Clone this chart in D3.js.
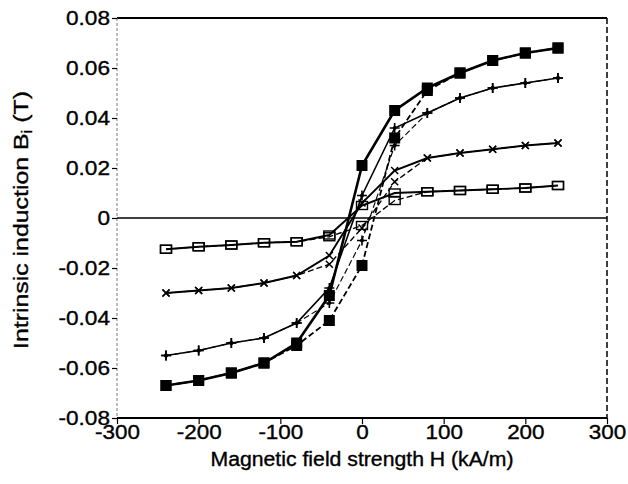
<!DOCTYPE html>
<html><head><meta charset="utf-8">
<script src="https://cdn.jsdelivr.net/npm/d3@7"></script>
<style>
html,body{margin:0;padding:0;background:#fff;}
text{font-family:"Liberation Sans",Arial,Helvetica,sans-serif;fill:#000;stroke:#000;stroke-width:0.35px;}
</style></head>
<body><svg id="c" width="628" height="484"></svg>
<script>
// H values for the descending (upper) branch and ascending (lower) branch, kA/m
const H_desc = [240,200,160,120,80,40,0,-40,-80,-120,-160,-200,-240];
const H_asc  = [-240,-200,-160,-120,-80,-40,0,40,80,120,160,200,240];

// Series 1: filled squares
const sqDesc = [0.068,0.066,0.063,0.058,0.052,0.043,0.021,-0.031,-0.050,-0.058,-0.062,-0.065,-0.067];
const sqAsc  = [-0.067,-0.065,-0.062,-0.058,-0.051,-0.041,-0.019,0.032,0.051,0.058,0.063,0.066,0.068];
// Series 2: plus markers
const plDesc = [0.056,0.054,0.052,0.048,0.042,0.036,0.009,-0.028,-0.042,-0.048,-0.050,-0.053,-0.055];
const plAsc  = [-0.055,-0.053,-0.050,-0.048,-0.042,-0.034,-0.009,0.029,0.042,0.048,0.052,0.054,0.056];
// Series 3: cross markers
const crDesc = [0.030,0.029,0.0275,0.026,0.024,0.019,0.006,-0.015,-0.023,-0.026,-0.028,-0.029,-0.030];
const crAsc  = [-0.030,-0.029,-0.028,-0.026,-0.023,-0.0185,-0.004,0.0145,0.024,0.026,0.0275,0.029,0.030];
// Series 4: open squares
const osDesc = [0.013,0.012,0.0115,0.011,0.0105,0.010,0.005,-0.0068,-0.0095,-0.0099,-0.0108,-0.0115,-0.0125];
const osAsc  = [-0.0125,-0.0115,-0.0108,-0.0099,-0.0095,-0.0075,-0.003,0.007,0.0105,0.011,0.0115,0.012,0.013];

const xTicks = [-300,-200,-100,0,100,200,300];
const yTicks = [-0.08,-0.06,-0.04,-0.02,0,0.02,0.04,0.06,0.08];

const svg = d3.select("#c");
const L=117, R=607, T=18, B=418;
const x = d3.scaleLinear().domain([-300,300]).range([L,R]);
const y = d3.scaleLinear().domain([-0.08,0.08]).range([B,T]);

function stretch(sel, f){
  sel.each(function(){ const n=this.getComputedTextLength(); d3.select(this).attr("textLength", n*f).attr("lengthAdjust","spacingAndGlyphs"); });
}
const hy = s => s.replace("\u2212","-");

// frame
svg.append("line").attr("x1",L).attr("x2",R).attr("y1",T).attr("y2",T).attr("stroke","#000").attr("stroke-width",2);
svg.append("line").attr("x1",L).attr("x2",R).attr("y1",B).attr("y2",B).attr("stroke","#000").attr("stroke-width",2);
svg.append("line").attr("x1",L).attr("x2",L).attr("y1",T).attr("y2",B).attr("stroke","#777").attr("stroke-width",1).attr("stroke-dasharray","3,2");
svg.append("line").attr("x1",R).attr("x2",R).attr("y1",T).attr("y2",B).attr("stroke","#000").attr("stroke-width",1.5).attr("stroke-dasharray","6,3");
svg.append("line").attr("x1",L).attr("x2",R).attr("y1",y(0)).attr("y2",y(0)).attr("stroke","#000").attr("stroke-width",1.5);

// y axis
const ya = svg.append("g").attr("transform",`translate(${L},0)`)
  .call(d3.axisLeft(y).tickValues(yTicks).tickSize(5).tickPadding(3).tickFormat(d=>d===0?"0":hy(d3.format(".2f")(d))));
ya.select(".domain").remove();
ya.selectAll(".tick line").attr("stroke","#000").attr("stroke-width",1.2);
ya.selectAll(".tick text").attr("font-size",19.5).attr("font-family",null).attr("x",-7);
stretch(ya.selectAll(".tick text"),1.16);

// x axis
const xa = svg.append("g").attr("transform",`translate(0,${B})`)
  .call(d3.axisBottom(x).tickValues(xTicks).tickSize(6).tickPadding(3).tickFormat(d=>hy(d3.format("d")(d))));
xa.select(".domain").remove();
xa.selectAll(".tick line").attr("stroke","#000").attr("stroke-width",1.2);
xa.selectAll(".tick text").attr("font-size",19.5).attr("font-family",null).attr("y",7).attr("dy","0.71em");
stretch(xa.selectAll(".tick text"),1.15);

// titles
const xt = svg.append("text").attr("x",(L+R)/2).attr("y",466).attr("text-anchor","middle").attr("font-size",19.5)
  .text("Magnetic field strength H (kA/m)");
xt.attr("textLength",303).attr("lengthAdjust","spacingAndGlyphs");
const yt = svg.append("text").attr("transform","translate(28,220) rotate(-90)").attr("text-anchor","middle").attr("font-size",21)
  .attr("textLength",258).attr("lengthAdjust","spacingAndGlyphs");
yt.append("tspan").text("Intrinsic induction B");
yt.append("tspan").attr("font-size",14).attr("dy",4).text("i");
yt.append("tspan").attr("dy",-4).text(" (T)");

const line = d3.line().x(d=>x(d[0])).y(d=>y(d[1]));
const series = [
  {desc:sqDesc, asc:sqAsc, w:2.6, m:"fsq"},
  {desc:plDesc, asc:plAsc, w:1.6, m:"plus"},
  {desc:crDesc, asc:crAsc, w:1.9, m:"cross"},
  {desc:osDesc, asc:osAsc, w:1.9, m:"osq"}
];
series.forEach(s=>{
  const dd = H_desc.map((h,i)=>[h,s.desc[i]]);
  const aa = H_asc.map((h,i)=>[h,s.asc[i]]);
  svg.append("path").datum(aa).attr("d",line).attr("fill","none").attr("stroke","#000").attr("stroke-width",s.w*0.7).attr("stroke-dasharray","6,3");
  svg.append("path").datum(dd).attr("d",line).attr("fill","none").attr("stroke","#000").attr("stroke-width",s.w);
  const pts = dd.concat(aa);
  const g = svg.append("g");
  pts.forEach(p=>{
    const cx=x(p[0]), cy=y(p[1]);
    if(s.m==="fsq"){
      g.append("rect").attr("x",cx-5.5).attr("y",cy-5.5).attr("width",11).attr("height",11).attr("fill","#000");
    } else if(s.m==="plus"){
      g.append("path").attr("d",`M${cx-5},${cy}H${cx+5}M${cx},${cy-5}V${cy+5}`).attr("stroke","#000").attr("stroke-width",1.6);
      g.append("circle").attr("cx",cx).attr("cy",cy).attr("r",2).attr("fill","#000");
    } else if(s.m==="cross"){
      g.append("path").attr("d",`M${cx-3.5},${cy-3.5}L${cx+3.5},${cy+3.5}M${cx-3.5},${cy+3.5}L${cx+3.5},${cy-3.5}`).attr("stroke","#000").attr("stroke-width",1.5);
    } else {
      g.append("rect").attr("x",cx-5.5).attr("y",cy-4).attr("width",11).attr("height",8).attr("fill","none").attr("stroke","#000").attr("stroke-width",1.4);
    }
  });
});
</script></body></html>
